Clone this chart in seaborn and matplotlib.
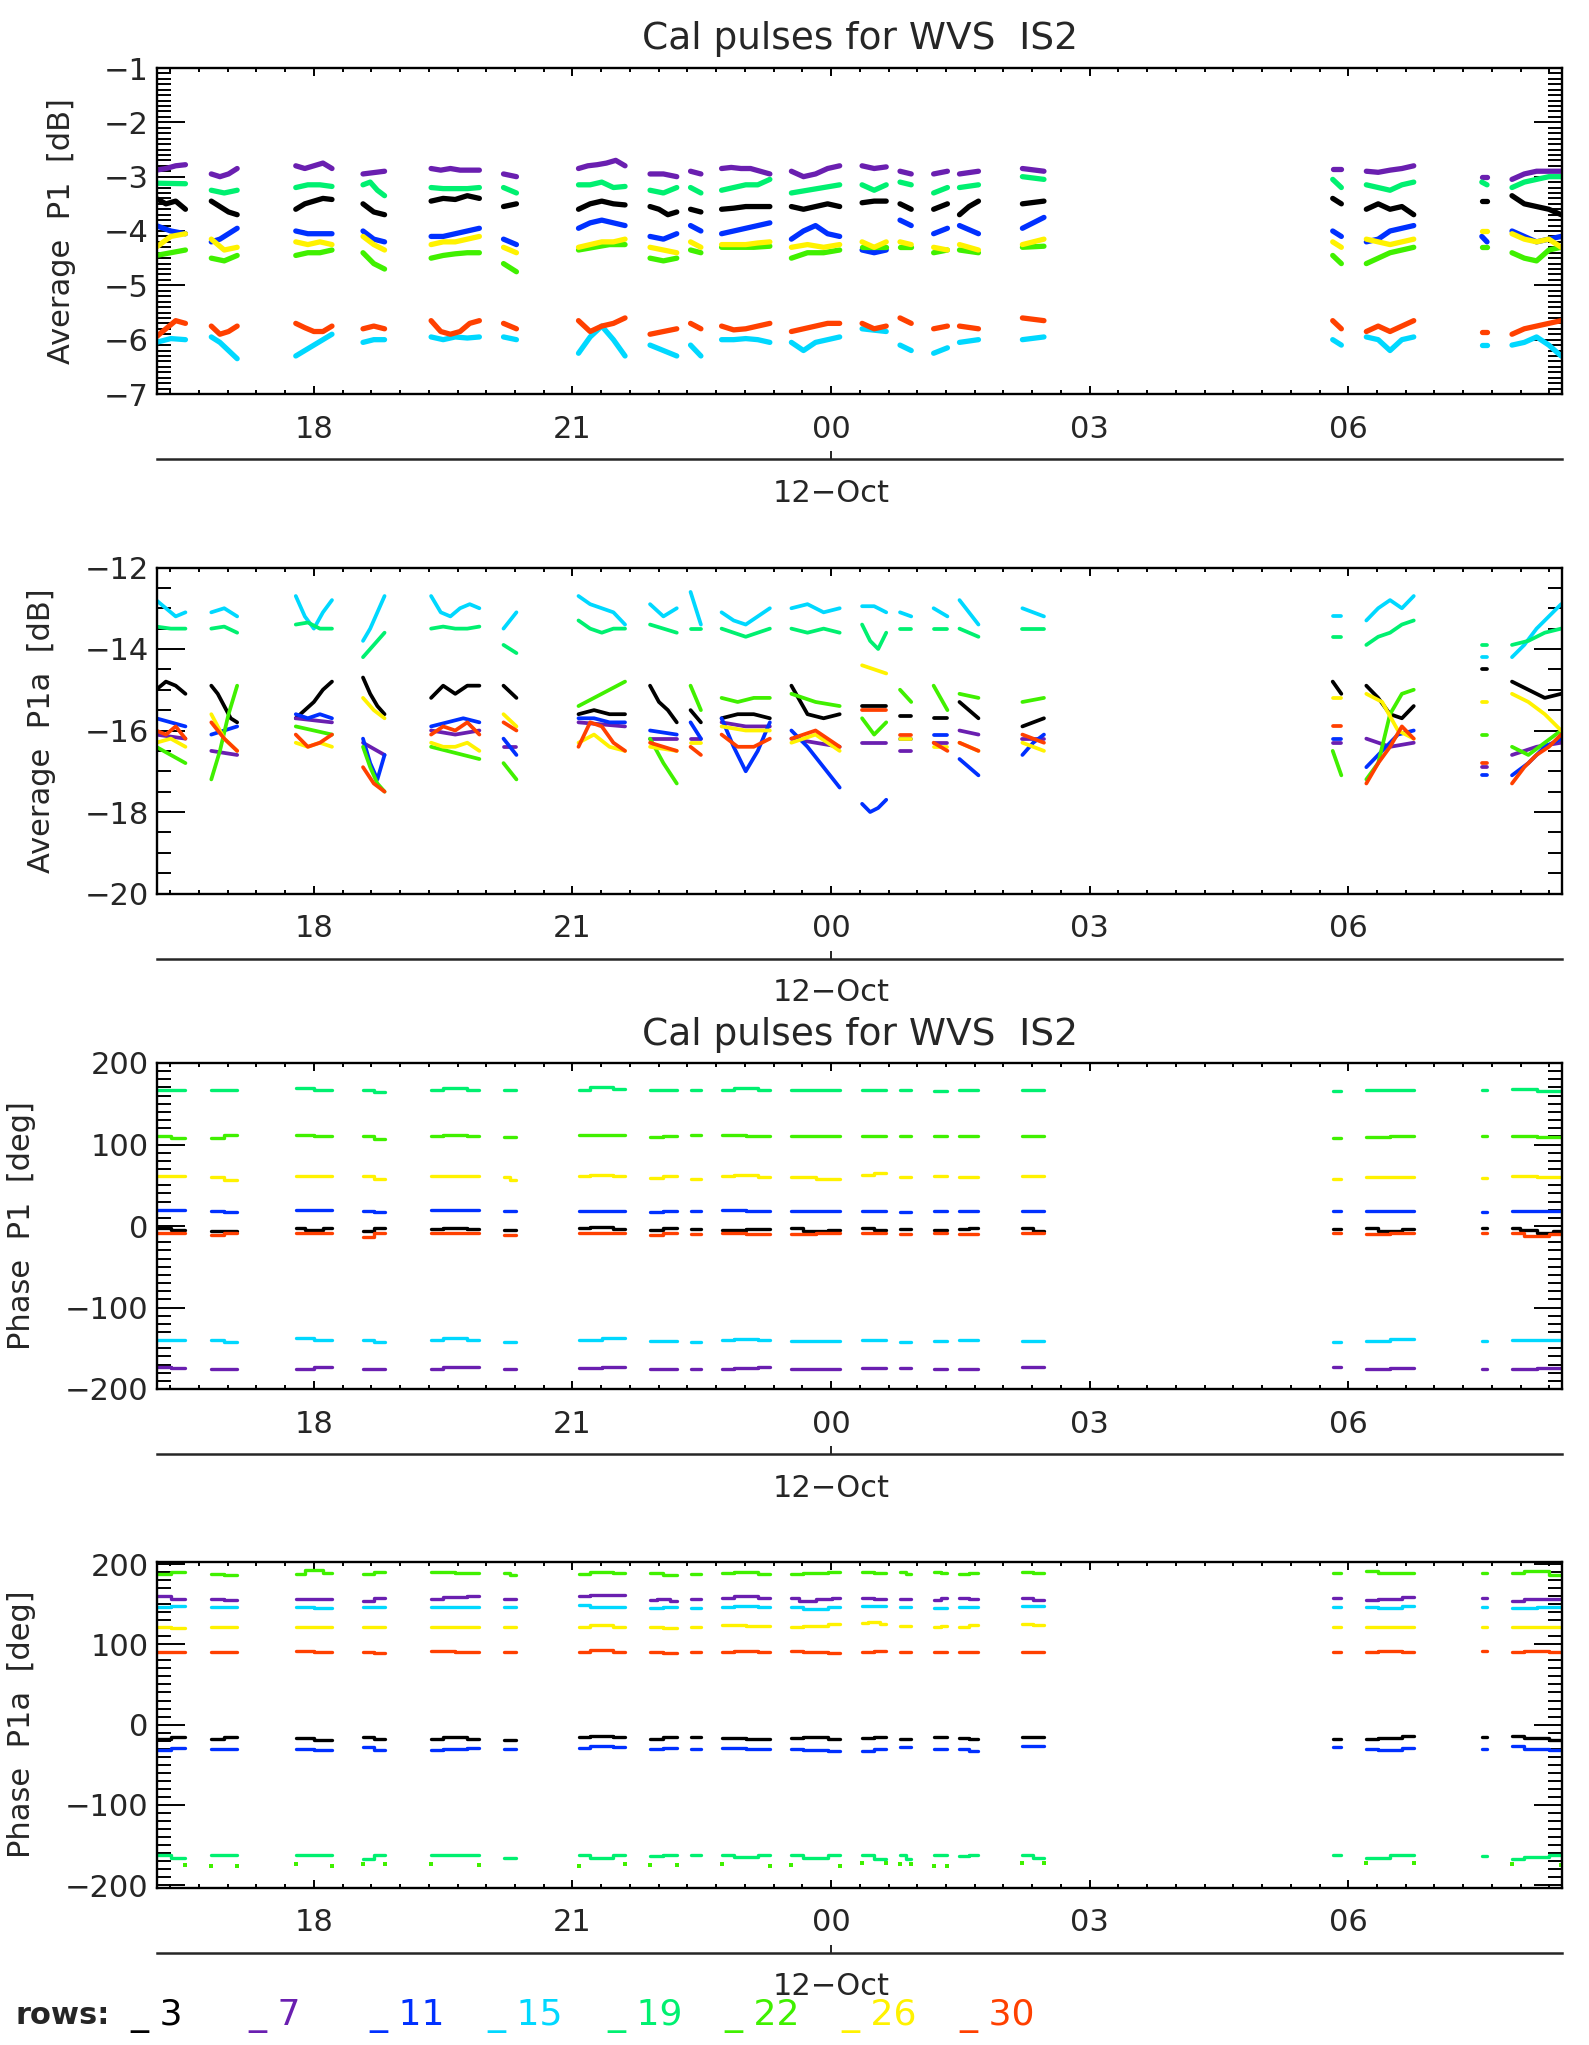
import numpy as np
import pandas as pd
import matplotlib
matplotlib.use("Agg")
import matplotlib.pyplot as plt
from matplotlib.ticker import MultipleLocator, FixedLocator, FixedFormatter, NullLocator
import seaborn as sns

# ---------------------------------------------------------------- categories
ROWS = ["3", "7", "11", "15", "19", "22", "26", "30"]
ROW_COLORS = ["#000000", "#6A1FB0", "#0030FF", "#00D8FF",
              "#00F070", "#40F000", "#FFF200", "#FF4000"]

# calibration windows, hours after 11-Oct 00:00
SEG_START = [16.17, 16.81, 17.79, 18.57, 19.36, 20.20, 21.07, 21.90, 22.37, 22.73,
             23.54, 24.36, 24.80, 25.19, 25.49, 26.22, 29.82, 30.21, 31.55, 31.90]
SEG_END = [16.51, 17.11, 18.21, 18.82, 19.92, 20.35, 21.61, 22.21, 22.49, 23.29,
           24.10, 24.64, 24.93, 25.35, 25.71, 26.47, 29.92, 30.76, 31.61, 32.47]

X_RANGE = (16.18, 32.48)
HOUR_TICKS = [18, 21, 24, 27, 30]
HOUR_LABELS = ["18", "21", "00", "03", "06"]
DAY_TICK = 24
DAY_LABEL = "12\u2212Oct"
TITLE = "Cal pulses for WVS  IS2"

# ---------------------------------------------------------------- Average P1 [dB]
P1_R3 = [[-3.4, -3.5, -3.45, -3.6], [-3.45, -3.55, -3.65, -3.7], [-3.6, -3.5, -3.45, -3.4, -3.42],
         [-3.5, -3.65, -3.7], [-3.45, -3.4, -3.42, -3.35, -3.4], [-3.55, -3.5],
         [-3.6, -3.5, -3.45, -3.5, -3.52], [-3.55, -3.6, -3.7, -3.65], [-3.6, -3.65],
         [-3.6, -3.58, -3.55, -3.55, -3.55], [-3.55, -3.6, -3.55, -3.5, -3.55], [-3.48, -3.45, -3.45],
         [-3.5, -3.6], [-3.6, -3.5], [-3.7, -3.55, -3.45], [-3.5, -3.45], [-3.4, -3.5],
         [-3.6, -3.5, -3.6, -3.55, -3.7], [-3.45], [-3.35, -3.5, -3.55, -3.6, -3.7]]
P1_R7 = [[-2.88, -2.85, -2.8, -2.78], [-2.95, -3.0, -2.95, -2.85], [-2.8, -2.85, -2.8, -2.75, -2.85],
         [-2.95, -2.9], [-2.85, -2.88, -2.85, -2.88, -2.88, -2.88], [-2.95, -3.0],
         [-2.85, -2.8, -2.78, -2.75, -2.7, -2.8], [-2.95, -2.95, -3.0], [-2.9, -2.95],
         [-2.85, -2.83, -2.85, -2.85, -2.9, -2.95], [-2.9, -3.0, -2.95, -2.85, -2.8], [-2.8, -2.85, -2.82],
         [-2.9, -2.95], [-2.95, -2.9], [-2.95, -2.9], [-2.85, -2.9], [-2.85],
         [-2.9, -2.92, -2.88, -2.85, -2.8], [-3.0], [-3.05, -2.95, -2.9, -2.9, -2.9]]
P1_R11 = [[-3.9, -4.0, -4.05], [-4.2, -4.15, -4.05, -3.95], [-4.0, -4.05, -4.05, -4.05],
          [-4.0, -4.15, -4.2], [-4.1, -4.1, -4.05, -4.0, -3.95], [-4.15, -4.25],
          [-3.95, -3.85, -3.8, -3.85, -3.9], [-4.1, -4.15, -4.05], [-3.9, -4.0],
          [-4.05, -4.0, -3.95, -3.9, -3.85], [-4.15, -4.0, -3.9, -4.05, -4.1], [-4.35, -4.4, -4.35],
          [-3.8, -3.9], [-4.05, -3.95], [-3.9, -4.05], [-3.95, -3.85, -3.75], [-4.0, -4.1],
          [-4.2, -4.15, -4.0, -3.95, -3.9], [-4.1, -4.2], [-4.0, -4.1, -4.2, -4.15, -4.1]]
P1_R15 = [[-6.05, -5.98, -6.0], [-5.95, -6.05, -6.2, -6.35], [-6.3, -6.2, -6.1, -6.0, -5.9],
          [-6.05, -6.0, -6.0], [-5.95, -6.0, -5.95, -5.97, -5.95], [-5.95, -6.0],
          [-6.25, -5.95, -5.75, -6.0, -6.3], [-6.1, -6.2, -6.3], [-6.1, -6.3],
          [-6.0, -6.0, -5.98, -6.0, -6.05], [-6.05, -6.2, -6.05, -6.0, -5.95], [-5.8, -5.85],
          [-6.1, -6.2], [-6.25, -6.15], [-6.05, -6.0], [-6.0, -5.95], [-6.0, -6.1],
          [-5.95, -6.0, -6.2, -6.0, -5.95], [-6.1], [-6.1, -6.05, -5.95, -6.1, -6.3]]
P1_R19 = [[-3.12, -3.13], [-3.25, -3.3, -3.25], [-3.2, -3.15, -3.15, -3.18],
          [-3.15, -3.1, -3.25, -3.35], [-3.2, -3.22, -3.22, -3.22, -3.2], [-3.2, -3.3],
          [-3.15, -3.15, -3.1, -3.2, -3.18], [-3.25, -3.3, -3.2], [-3.2, -3.3],
          [-3.25, -3.2, -3.15, -3.15, -3.05], [-3.3, -3.25, -3.2, -3.15], [-3.15, -3.25, -3.15],
          [-3.1, -3.15], [-3.3, -3.2], [-3.2, -3.15], [-3.0, -3.05], [-3.05, -3.2],
          [-3.15, -3.2, -3.25, -3.15, -3.1], [-3.1, -3.15], [-3.2, -3.1, -3.05, -3.0, -3.0]]
P1_R22 = [[-4.45, -4.4, -4.35], [-4.5, -4.55, -4.45], [-4.45, -4.4, -4.4, -4.35],
          [-4.4, -4.6, -4.7], [-4.5, -4.45, -4.42, -4.4, -4.4], [-4.6, -4.75],
          [-4.35, -4.3, -4.25, -4.25], [-4.5, -4.55, -4.5], [-4.35, -4.4],
          [-4.3, -4.3, -4.3, -4.28], [-4.5, -4.4, -4.4, -4.35], [-4.3, -4.3],
          [-4.3], [-4.4, -4.35], [-4.35, -4.4], [-4.3, -4.28], [-4.45, -4.6],
          [-4.6, -4.5, -4.4, -4.35, -4.3], [-4.3], [-4.4, -4.5, -4.55, -4.35, -4.3]]
P1_R26 = [[-4.3, -4.1, -4.05], [-4.15, -4.35, -4.3], [-4.2, -4.25, -4.2, -4.25],
          [-4.1, -4.25, -4.35], [-4.25, -4.2, -4.2, -4.15, -4.1], [-4.3, -4.4],
          [-4.3, -4.25, -4.2, -4.2, -4.15], [-4.3, -4.35, -4.4], [-4.2, -4.3],
          [-4.25, -4.25, -4.25, -4.22, -4.2], [-4.3, -4.25, -4.3, -4.25], [-4.2, -4.3, -4.2],
          [-4.2, -4.25], [-4.3, -4.35], [-4.25, -4.35], [-4.25, -4.2, -4.15], [-4.2, -4.3],
          [-4.15, -4.2, -4.25, -4.2, -4.15], [-4.0], [-4.05, -4.15, -4.2, -4.15, -4.3]]
P1_R30 = [[-5.95, -5.8, -5.65, -5.7], [-5.75, -5.9, -5.85, -5.75], [-5.7, -5.78, -5.85, -5.85, -5.75],
          [-5.8, -5.75, -5.8], [-5.65, -5.85, -5.9, -5.85, -5.7, -5.65], [-5.7, -5.8],
          [-5.65, -5.85, -5.75, -5.7, -5.6], [-5.9, -5.85, -5.8], [-5.7, -5.8],
          [-5.75, -5.82, -5.8, -5.75, -5.7], [-5.85, -5.8, -5.75, -5.7, -5.7], [-5.7, -5.8, -5.75],
          [-5.6, -5.7], [-5.8, -5.75], [-5.75, -5.8], [-5.6, -5.65], [-5.65, -5.8],
          [-5.85, -5.75, -5.85, -5.75, -5.65], [-5.85], [-5.9, -5.8, -5.75, -5.7, -5.65]]

# ---------------------------------------------------------------- Average P1a [dB]
P1A_R3 = [[-15.0, -14.8, -14.9, -15.1], [-14.9, -15.1, -15.4, -15.7, -15.8], [-15.7, -15.5, -15.3, -15.0, -14.8],
          [-14.7, -15.1, -15.4, -15.6], [-15.2, -14.9, -15.1, -14.9, -14.9], [-14.9, -15.2],
          [-15.6, -15.5, -15.6, -15.6], [-14.9, -15.3, -15.5, -15.8], [-15.5, -15.8],
          [-15.7, -15.6, -15.6, -15.7], [-14.9, -15.6, -15.7, -15.6], [-15.4, -15.4],
          [-15.65], [-15.7], [-15.3, -15.7], [-15.9, -15.7], [-14.8, -15.1],
          [-14.9, -15.2, -15.6, -15.7, -15.4], [-14.5], [-14.8, -15.0, -15.2, -15.1]]
P1A_R7 = [[-16.1, -16.2], [-16.5, -16.6], [-15.7, -15.8], [-16.3, -16.6], [-16.0, -16.1, -16.0],
          [-16.4], [-15.8, -15.9], [-16.2], [-16.2], [-15.8, -15.9, -15.9], [-16.2, -16.4],
          [-16.3, -16.3], [-16.5], [-16.3], [-16.0, -16.1], [-16.2], [-16.3],
          [-16.2, -16.4, -16.3], [-16.9], [-16.6, -16.4, -16.3]]
P1A_R11 = [[-15.7, -15.8, -15.9], [-16.1, -16.0, -15.9], [-15.6, -15.7, -15.6, -15.7],
           [-16.2, -16.8, -17.2, -16.6], [-15.9, -15.8, -15.7, -15.8], [-16.2, -16.6],
           [-15.7, -15.7, -15.8, -15.8], [-16.0, -16.1], [-15.8, -16.2],
           [-15.7, -16.4, -17.0, -16.5, -15.8], [-16.0, -16.4, -16.9, -17.4], [-17.8, -18.0, -17.9, -17.7],
           [-16.2], [-16.1], [-16.7, -17.1], [-16.6, -16.3, -16.1], [-16.2],
           [-16.9, -16.5, -16.1, -16.0], [-17.1], [-17.1, -16.8, -16.4, -16.2]]
P1A_R15 = [[-12.8, -13.0, -13.2, -13.1], [-13.1, -13.0, -13.2], [-12.7, -13.2, -13.5, -13.1, -12.8],
           [-13.8, -13.5, -13.1, -12.7], [-12.7, -13.1, -13.2, -13.0, -12.9, -13.0], [-13.5, -13.1],
           [-12.7, -12.9, -13.0, -13.1, -13.4], [-12.9, -13.2, -13.0], [-12.6, -13.4],
           [-13.1, -13.3, -13.4, -13.2, -13.0], [-13.0, -12.9, -13.1, -13.0], [-12.95, -12.95, -13.1],
           [-13.1, -13.2], [-13.0, -13.2], [-12.8, -13.1, -13.4], [-13.0, -13.1, -13.2], [-13.2],
           [-13.3, -13.0, -12.8, -13.0, -12.7], [-14.2], [-14.2, -13.9, -13.5, -13.2, -12.9]]
P1A_R19 = [[-13.45, -13.5, -13.5], [-13.5, -13.45, -13.6], [-13.4, -13.35, -13.5, -13.5],
           [-14.2, -13.9, -13.6], [-13.5, -13.45, -13.5, -13.5, -13.45], [-13.9, -14.1],
           [-13.3, -13.5, -13.6, -13.5, -13.5], [-13.4, -13.6], [-13.5],
           [-13.5, -13.6, -13.7, -13.6, -13.5], [-13.5, -13.6, -13.5, -13.6], [-13.4, -13.8, -14.0, -13.6],
           [-13.5], [-13.5], [-13.5, -13.7], [-13.5, -13.5], [-13.7],
           [-13.9, -13.7, -13.6, -13.4, -13.3], [-13.9], [-13.9, -13.8, -13.6, -13.5]]
P1A_R22 = [[-16.4, -16.6, -16.8], [-17.2, -16.5, -15.6, -14.9], [-15.9, -16.0, -16.1],
           [-16.4, -16.9, -17.3, -17.5], [-16.4, -16.5, -16.6, -16.7], [-16.8, -17.2],
           [-15.4, -15.2, -15.0, -14.8], [-16.2, -16.8, -17.3], [-14.9, -15.5],
           [-15.2, -15.3, -15.2, -15.2], [-15.1, -15.3, -15.4], [-15.7, -16.1, -15.8],
           [-15.0, -15.3], [-14.9, -15.5], [-15.1, -15.2], [-15.3, -15.2], [-16.5, -17.1],
           [-17.2, -16.8, -15.6, -15.1, -15.0], [-16.1], [-16.4, -16.6, -16.3, -16.0]]
P1A_R26 = [[-16.3, -16.2, -16.4], [-15.6, -16.2, -16.5], [-16.3, -16.4, -16.3, -16.4],
           [-15.2, -15.5, -15.7], [-16.3, -16.4, -16.4, -16.3, -16.5], [-15.6, -15.9],
           [-16.3, -16.1, -16.4, -16.5], [-16.4, -16.5], [-16.3],
           [-15.9, -16.0, -16.0], [-16.3, -16.1, -16.5], [-14.4, -14.6],
           [-16.2], [-16.4], [-16.3, -16.5], [-16.3, -16.5], [-15.2],
           [-15.1, -15.3, -16.0, -16.2], [-15.3], [-15.1, -15.3, -15.6, -16.0]]
P1A_R30 = [[-16.0, -16.1, -15.9, -16.2], [-15.8, -16.2, -16.5], [-16.1, -16.4, -16.3, -16.1],
           [-16.9, -17.3, -17.5], [-16.1, -15.9, -16.0, -15.8, -16.1], [-15.8, -16.0],
           [-16.4, -15.8, -15.9, -16.3, -16.5], [-16.3, -16.5], [-16.4, -16.6],
           [-16.1, -16.4, -16.4, -16.2], [-16.2, -16.0, -16.4], [-15.5, -15.5],
           [-16.1], [-16.3, -16.5], [-16.3, -16.5], [-16.1, -16.3], [-15.9],
           [-17.3, -16.8, -16.4, -15.9, -16.2], [-16.8], [-17.3, -16.9, -16.6, -16.4, -16.1]]

# ---------------------------------------------------------------- Phase P1 [deg]
PH1_R3 = [[-2, -5], [-6], [-3, -5, -3], [-6, -2], [-4, -2, -4], [-5], [-3, -1, -4], [-5, -3], [-4],
          [-5, -4], [-3, -6, -5], [-3, -5], [-4], [-5], [-4, -3], [-3, -6], [-4], [-3, -6, -4], [-2],
          [-3, -5, -8, -6]]
PH1_R7 = [[-173, -174], [-175], [-175, -173], [-175], [-175, -173, -173], [-175], [-174, -173],
          [-175], [-175], [-175, -174, -173], [-175], [-174], [-174], [-175], [-175], [-173], [-173],
          [-175, -174], [-175], [-175, -174]]
PH1_R11 = [[20], [18, 17], [20], [19, 17], [20], [18], [19], [17, 19], [18], [20, 19], [18], [19],
           [17], [18], [19], [18], [18], [19, 18], [17], [19, 18]]
PH1_R15 = [[-140], [-140, -142], [-138, -140], [-140, -142], [-140, -138, -140], [-142], [-140, -138],
           [-141], [-142], [-140, -139, -140], [-141], [-140], [-142], [-141], [-140], [-141], [-142],
           [-141, -139], [-141], [-140]]
PH1_R19 = [[167], [167], [169, 167], [167, 165], [167, 169, 167], [167], [167, 170, 168], [167],
           [167], [167, 169, 167], [167], [167], [167], [166], [167], [167], [166], [167], [167],
           [168, 166]]
PH1_R22 = [[110, 108], [108, 112], [112, 110], [110, 107], [110, 112, 110], [109], [112], [109, 110],
           [112], [112, 110], [110, 111], [110], [110], [111], [110], [110], [108], [109, 110], [111],
           [110, 109]]
PH1_R26 = [[61], [60, 57], [61], [61, 58], [61], [60, 57], [61, 63, 61], [59, 61], [58], [61, 62, 60],
           [60, 58], [63, 65], [60], [61], [60], [61], [58], [60], [59], [61, 60]]
PH1_R30 = [[-8], [-11, -9], [-9], [-14, -9], [-9], [-11], [-8, -9], [-11, -9], [-10], [-9, -10],
           [-10, -9], [-8], [-10], [-9], [-10], [-9], [-9], [-10, -8], [-9], [-9, -12, -10]]

# ---------------------------------------------------------------- Phase P1a [deg]
PH1A_R3 = [[-18, -16], [-18, -16], [-17, -19], [-15, -18], [-18, -16, -18], [-19], [-16, -14, -16],
           [-18, -15], [-16], [-17, -18], [-17, -16, -18], [-17, -16], [-18], [-16], [-17, -18], [-16],
           [-18], [-18, -17, -14], [-16], [-14, -17, -19]]
PH1A_R7 = [[160, 157], [157, 155], [157], [154, 158], [157, 159, 160], [156], [160, 162, 161],
           [155, 157, 154], [157], [158, 160, 158], [158, 154, 156, 158], [158, 157], [157], [155, 158],
           [158, 156], [158, 155], [158], [155, 156, 159], [158], [154, 156, 157]]
PH1A_R11 = [[-32, -29], [-31], [-30, -32], [-28, -32], [-32, -30, -29], [-31], [-29, -27, -28],
            [-31, -29], [-30], [-29, -31], [-30, -32, -33], [-33, -31], [-28], [-31], [-30, -33], [-27],
            [-28], [-31, -32, -29], [-30], [-27, -31, -32]]
PH1A_R15 = [[147, 148], [146], [147, 145], [146, 147], [147, 146], [146], [149, 147, 146], [145, 147],
            [145], [147, 148, 147], [147, 144, 146], [148], [146], [145], [147], [148], [147],
            [146, 145, 148], [146], [145, 146]]
PH1A_R19 = [[-162, -166], [-163], [-162, -163], [-168, -162], [-162, -163], [-166], [-162, -166, -163],
            [-164, -162], [-163], [-162, -165, -163], [-163, -166, -162], [-163, -167], [-163, -168],
            [-162], [-164, -162], [-162, -166], [-163], [-166, -163], [-164], [-168, -165, -162]]
PH1A_R22 = [[188, 190], [188, 186], [188, 192, 189], [187, 190], [190, 189], [189, 186],
            [188, 190, 189], [189, 186], [187], [189, 190, 188], [188, 189, 190], [190, 189],
            [190, 188], [190, 189], [187, 189], [190, 189], [189], [191, 189, 189], [189],
            [189, 191, 186]]
# row 22 samples that wrapped past -180
PH1A_R22_WRAP = [[-175], [-176], [-173, -176], [-174], [-173, -175], [], [-176, -174], [-175], [],
                 [-174, -176], [-175, -176], [-172], [-174], [-176], [], [-172], [], [-172], [],
                 [-173, -175]]
PH1A_R26 = [[122, 120], [121], [121, 122], [121], [122, 121], [122], [122, 124, 121], [122, 120],
            [121], [124, 123], [121, 123, 125], [126, 128, 125], [123], [121, 123], [122, 124],
            [125, 124], [121], [121, 122], [121], [122, 121]]
PH1A_R30 = [[91, 90], [90], [92, 91], [91, 89], [92, 91], [90], [91, 93, 91], [91, 89], [90],
            [91, 92, 91], [92, 90, 89], [91, 92], [90], [91], [91, 90], [90], [91], [90, 92, 90], [92],
            [91, 92, 90]]


def to_frame(series):
    """Long-form table: one record per sample, one unit per row and window."""
    recs = []
    for row, segs in series.items():
        for k, vals in enumerate(segs):
            if not vals:
                continue
            if len(vals) == 1:
                vals = [vals[0], vals[0]]
            ts = np.linspace(SEG_START[k], SEG_END[k], len(vals))
            for t, v in zip(ts, vals):
                recs.append((t, v, row, f"{row}-{k}"))
    return pd.DataFrame(recs, columns=["t", "v", "row", "seg"])


def series(*arrays):
    return dict(zip(ROWS, arrays))


PANELS = [
    dict(data=series(P1_R3, P1_R7, P1_R11, P1_R15, P1_R19, P1_R22, P1_R26, P1_R30),
         ylim=(-7, -1), ymaj=1, ymin=0.1, ylabel="Average  P1  [dB]", lx=-0.058,
         lw=3.8, steps=False),
    dict(data=series(P1A_R3, P1A_R7, P1A_R11, P1A_R15, P1A_R19, P1A_R22, P1A_R26, P1A_R30),
         ylim=(-20, -12), ymaj=2, ymin=0.5, ylabel="Average  P1a  [dB]", lx=-0.072,
         lw=2.7, steps=False),
    dict(data=series(PH1_R3, PH1_R7, PH1_R11, PH1_R15, PH1_R19, PH1_R22, PH1_R26, PH1_R30),
         ylim=(-200, 200), ymaj=100, ymin=10, ylabel="Phase  P1  [deg]", lx=-0.086,
         lw=2.4, steps=True),
    dict(data=series(PH1A_R3, PH1A_R7, PH1A_R11, PH1A_R15, PH1A_R19, PH1A_R22, PH1A_R26, PH1A_R30),
         ylim=(-203, 203), ymaj=100, ymin=10, ylabel="Phase  P1a  [deg]", lx=-0.086,
         lw=2.4, steps=True),
]

sns.set_style("ticks")
plt.rcParams["font.family"] = ["DejaVu Sans"]
plt.rcParams["axes.unicode_minus"] = True

FS = 22
W, H = 1589, 2045
fig = plt.figure(figsize=(W / 100, H / 100), dpi=100)
palette = dict(zip(ROWS, ROW_COLORS))

AX_LEFT, AX_W = 157 / W, 1405 / W
AX_TOPS = [68, 567.5, 1063, 1561.6]
AX_H = 326

for i, p in enumerate(PANELS):
    top = AX_TOPS[i]
    ax = fig.add_axes([AX_LEFT, 1 - (top + AX_H) / H, AX_W, AX_H / H])
    df = to_frame(p["data"])
    kw = dict(drawstyle="steps-mid") if p["steps"] else {}
    sns.lineplot(data=df, x="t", y="v", hue="row", hue_order=ROWS, units="seg",
                 estimator=None, sort=False, palette=palette, legend=False,
                 linewidth=p["lw"], ax=ax, **kw)
    if i == 3:
        wrap = to_frame({"22": PH1A_R22_WRAP})
        sns.scatterplot(data=wrap, x="t", y="v", color=palette["22"], marker="s",
                        s=10, linewidth=0, legend=False, ax=ax)

    ax.set_xlim(*X_RANGE)
    ax.set_ylim(*p["ylim"])
    ax.xaxis.set_major_locator(FixedLocator(HOUR_TICKS))
    ax.xaxis.set_major_formatter(FixedFormatter(HOUR_LABELS))
    ax.xaxis.set_minor_locator(MultipleLocator(1 / 3))
    ax.yaxis.set_major_locator(MultipleLocator(p["ymaj"]))
    ax.yaxis.set_minor_locator(MultipleLocator(p["ymin"]))
    ax.tick_params(axis="both", which="both", direction="in", top=True, right=True,
                   width=1.4, color="black", labelsize=FS)
    ax.tick_params(axis="x", which="major", length=5.5, pad=15)
    ax.tick_params(axis="x", which="minor", length=2.8)
    ax.tick_params(axis="y", which="major", length=20, pad=6)
    ax.tick_params(axis="y", which="minor", length=10)
    for s in ax.spines.values():
        s.set_linewidth(1.7)
        s.set_color("black")
    ax.set_xlabel("")
    ax.set_ylabel(p["ylabel"], fontsize=FS)
    ax.yaxis.set_label_coords(p["lx"], 0.5)

    sec = ax.secondary_xaxis(-0.2)
    sec.set_xticks([DAY_TICK], [DAY_LABEL])
    sec.xaxis.set_minor_locator(NullLocator())
    sec.tick_params(direction="in", length=6, width=1.4, pad=14, labelsize=FS)
    sec.spines["bottom"].set_linewidth(1.8)

cx = AX_LEFT + AX_W / 2
fig.text(cx, 1 - 39 / H, TITLE, ha="center", va="center", fontsize=FS + 5)
fig.text(cx, 1 - 1035 / H, TITLE, ha="center", va="center", fontsize=FS + 5)

# legend line along the bottom edge
LEG_Y = 1 - 2016 / H
fig.text(16 / W, LEG_Y, "rows:", ha="left", va="center", fontsize=FS, fontweight="bold")
LEG_X = [130, 248, 369, 487, 607, 724, 841, 959]
for x, row, col in zip(LEG_X, ROWS, ROW_COLORS):
    fig.text(x / W, LEG_Y, "_ " + row, ha="left", va="center", fontsize=FS + 4, color=col)

fig.savefig("out.png", dpi=100)
